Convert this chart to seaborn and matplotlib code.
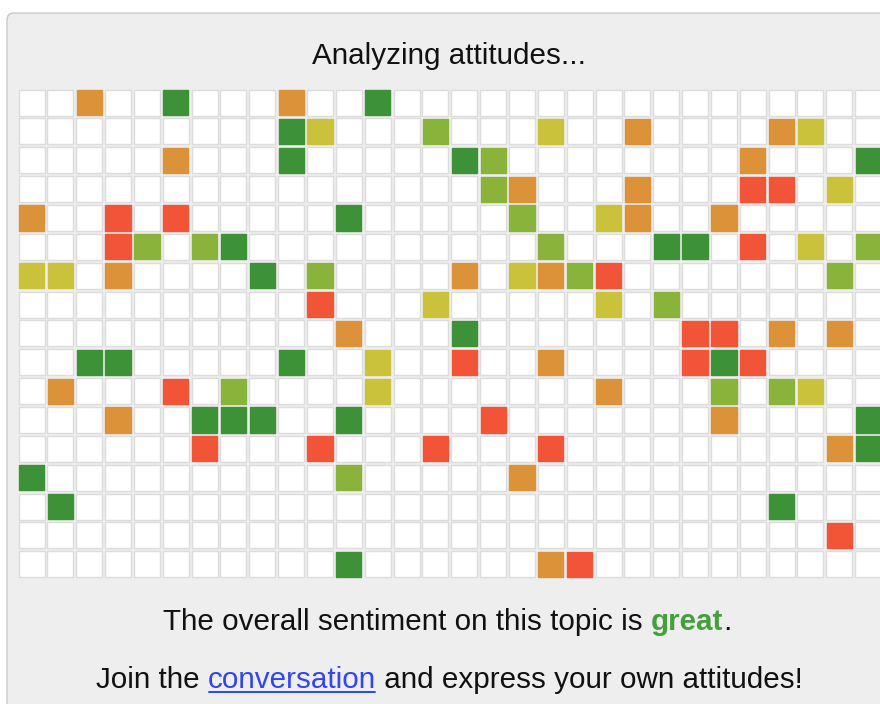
import matplotlib
matplotlib.use("Agg")
import matplotlib.pyplot as plt
import seaborn as sns
import pandas as pd
from matplotlib.patches import FancyBboxPatch
from matplotlib.lines import Line2D

# ---------------- data ----------------
N_ROWS = 17
N_COLS = 30
CATEGORIES = ["none", "bad", "poor", "ok", "good", "great"]
CODE = {"R": "bad", "O": "poor", "Y": "ok", "L": "good", "G": "great"}
PALETTE = {
    "none": "#ffffff",
    "bad": "#f25438",
    "poor": "#dc9239",
    "ok": "#c9c23a",
    "good": "#8ab33b",
    "great": "#3d9238",
}
# coloured cells of each row: column -> sentiment code
GRID_ROWS = [
    {2: "O", 5: "G", 9: "O", 12: "G"},
    {9: "G", 10: "Y", 14: "L", 18: "Y", 21: "O", 26: "O", 27: "Y"},
    {5: "O", 9: "G", 15: "G", 16: "L", 25: "O", 29: "G"},
    {16: "L", 17: "O", 21: "O", 25: "R", 26: "R", 28: "Y"},
    {0: "O", 3: "R", 5: "R", 11: "G", 17: "L", 20: "Y", 21: "O", 24: "O"},
    {3: "R", 4: "L", 6: "L", 7: "G", 18: "L", 22: "G", 23: "G", 25: "R", 27: "Y", 29: "L"},
    {0: "Y", 1: "Y", 3: "O", 8: "G", 10: "L", 15: "O", 17: "Y", 18: "O", 19: "L", 20: "R", 28: "L"},
    {10: "R", 14: "Y", 20: "Y", 22: "L"},
    {11: "O", 15: "G", 23: "R", 24: "R", 26: "O", 28: "O"},
    {2: "G", 3: "G", 9: "G", 12: "Y", 15: "R", 18: "O", 23: "R", 24: "G", 25: "R"},
    {1: "O", 5: "R", 7: "L", 12: "Y", 20: "O", 24: "L", 26: "L", 27: "Y"},
    {3: "O", 6: "G", 7: "G", 8: "G", 11: "G", 16: "R", 24: "O", 29: "G"},
    {6: "R", 10: "R", 14: "R", 18: "R", 28: "O", 29: "G"},
    {0: "G", 11: "L", 17: "O"},
    {1: "G", 26: "G"},
    {28: "R"},
    {11: "G", 18: "O", 19: "R"},
]
TITLE = "Analyzing attitudes..."
LINE1 = [("The overall sentiment on this topic is ", "normal", "#111111"),
         ("great", "bold", "#43a03b"),
         (".", "normal", "#111111")]
LINE2 = [("Join the ", "normal", "#111111"),
         ("conversation", "normal", "#2f46f0"),
         (" and express your own attitudes!", "normal", "#111111")]

records = []
for r, row in enumerate(GRID_ROWS):
    for c in range(N_COLS):
        code = row.get(c)
        records.append({"row": r, "col": c,
                        "sentiment": CODE[code] if code else "none"})
df = pd.DataFrame(records)

# ---------------- figure ----------------
W, H = 880, 704
DPI = 100
sns.set_style("white")
plt.rcParams["font.family"] = ["Liberation Sans", "DejaVu Sans"]

fig = plt.figure(figsize=(W / DPI, H / DPI), dpi=DPI)
fig.patch.set_facecolor("white")

# panel
panel = FancyBboxPatch((0.07, -0.3), 9.5, (H - 13) / DPI + 0.3,
                       boxstyle="round,pad=0,rounding_size=0.07",
                       transform=fig.dpi_scale_trans,
                       facecolor="#eeeeee", edgecolor="#c9c9c9", linewidth=1.0,
                       zorder=-5)
fig.patches.append(panel)

pitch = 28.85
left_px = 17.1
top_px = 88.2
ax = fig.add_axes([left_px / W, 1 - (top_px + N_ROWS * pitch) / H,
                   N_COLS * pitch / W, N_ROWS * pitch / H])
ax.set_zorder(2)

cell_outer_px = 26.6
edge_px = 1.4
side_pt = (cell_outer_px - edge_px) * 72 / DPI
S = side_pt ** 2
lw_pt = edge_px * 72 / DPI

empty = df[df["sentiment"] == "none"]
filled = df[df["sentiment"] != "none"]
sns.scatterplot(data=empty, x="col", y="row", marker="s", s=S,
                color="#ffffff", edgecolor="#dcdcdc", linewidth=lw_pt,
                ax=ax, legend=False, clip_on=False)
sns.scatterplot(data=filled, x="col", y="row", hue="sentiment",
                hue_order=CATEGORIES[1:], palette=PALETTE, marker="s", s=S,
                edgecolor="face", linewidth=lw_pt, ax=ax, legend=False,
                clip_on=False)
ax.set_xlim(-0.5, N_COLS - 0.5)
ax.set_ylim(N_ROWS - 0.5, -0.5)
ax.axis("off")

# ---------------- texts ----------------
FS = 21.3
renderer = fig.canvas.get_renderer()


def text_width(s, weight):
    t1 = fig.text(0, 0, s + "|", fontsize=FS, fontweight=weight)
    t2 = fig.text(0, 0, "|", fontsize=FS, fontweight=weight)
    w = t1.get_window_extent(renderer).width - t2.get_window_extent(renderer).width
    t1.remove()
    t2.remove()
    return w


def draw_line(parts, baseline_px, center_px, underline_idx=None):
    widths = [text_width(s, wgt) for s, wgt, _ in parts]
    x = center_px - sum(widths) / 2
    for i, ((s, wgt, col), w) in enumerate(zip(parts, widths)):
        fig.text(x / W, 1 - baseline_px / H, s, fontsize=FS, fontweight=wgt,
                 color=col, ha="left", va="baseline")
        if i == underline_idx:
            yy = 1 - (baseline_px + 3.5) / H
            fig.lines.append(Line2D([(x + 1) / W, (x + w - 1) / W], [yy, yy],
                                    transform=fig.transFigure, color=col,
                                    linewidth=1.4))
        x += w


fig.text(449.5 / W, 1 - 64 / H, TITLE, fontsize=FS, color="#111111",
         ha="center", va="baseline")
draw_line(LINE1, 630, 447.5)
draw_line(LINE2, 688, 449.5, underline_idx=1)

fig.savefig("out.png", dpi=DPI, facecolor="white")
